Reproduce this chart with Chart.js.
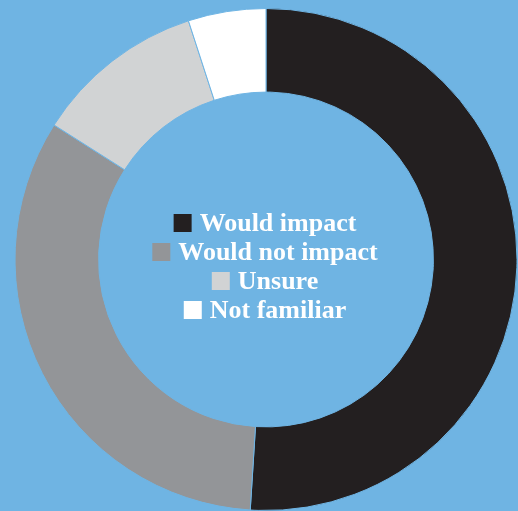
<!DOCTYPE html>
<html>
<head>
<meta charset="utf-8">
<script src="https://cdn.jsdelivr.net/npm/chart.js@4"></script>
<style>
  html, body { margin: 0; padding: 0; background: #6FB4E3; }
  #wrap { width: 518px; height: 511px; }
</style>
</head>
<body>
<div id="wrap"><canvas id="c" width="518" height="511"></canvas></div>
<script>
const categories = ["Would impact", "Would not impact", "Unsure", "Not familiar"];
const values = [51, 33, 11, 5];
const colors = ["#231F20", "#939598", "#D1D3D4", "#FFFFFF"];
const bgColor = "#6FB4E3";

const centerLegend = {
  id: 'centerLegend',
  afterDraw(chart) {
    const ctx = chart.ctx;
    const meta = chart.getDatasetMeta(0);
    const arc = meta.data[0];
    const cx = arc.x, cy = arc.y;
    const labels = chart.data.labels;
    const cols = chart.data.datasets[0].backgroundColor;
    const lineH = 29;
    const box = 18;
    const gap = 8;
    ctx.save();
    ctx.font = 'bold 26px "Liberation Serif", serif';
    ctx.textBaseline = 'middle';
    ctx.textAlign = 'left';
    const startY = cy - lineH * (labels.length - 1) / 2 + 7;
    labels.forEach((lab, i) => {
      const tw = ctx.measureText(lab).width;
      const total = box + gap + tw;
      const x0 = cx - 1 - total / 2;
      const y = startY + i * lineH;
      ctx.fillStyle = cols[i];
      ctx.fillRect(x0, y - box / 2, box, box);
      ctx.fillStyle = '#FFFFFF';
      ctx.fillText(lab, x0 + box + gap, y + 1);
    });
    ctx.restore();
  }
};

new Chart(document.getElementById('c'), {
  type: 'doughnut',
  data: {
    labels: categories,
    datasets: [{
      data: values,
      backgroundColor: colors,
      borderColor: bgColor,
      borderWidth: 1
    }]
  },
  options: {
    responsive: false,
    animation: false,
    cutout: '66.7%',
    layout: { padding: { left: 14, right: 0, top: 8, bottom: 0 } },
    plugins: {
      legend: { display: false },
      tooltip: { enabled: false }
    }
  },
  plugins: [centerLegend]
});
</script>
</body>
</html>
